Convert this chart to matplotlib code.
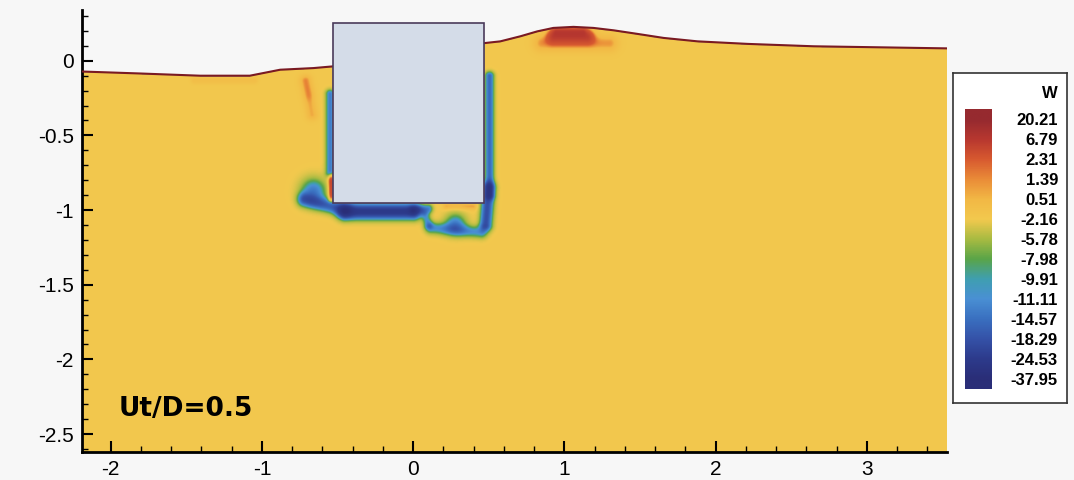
import numpy as np
import matplotlib.pyplot as plt
from matplotlib.colors import LinearSegmentedColormap
from matplotlib.patches import Rectangle
from matplotlib.ticker import MultipleLocator

plt.rcParams['font.family'] = ['Liberation Sans', 'DejaVu Sans']
plt.rcParams['axes.unicode_minus'] = False

# contour levels of W (legend) and their colours, low -> high
levels = [-37.95, -24.53, -18.29, -14.57, -11.11, -9.91, -7.98,
          -5.78, -2.16, 0.51, 1.39, 2.31, 6.79, 20.21]
level_colors = ['#2a2e78', '#2d3b8c', '#3552a8', '#3a70c0', '#4a90d4',
                '#3f9fb0', '#5aa548', '#a8bb42', '#f3c94e', '#f2b845',
                '#ea8c38', '#d85a30', '#b8382f', '#962a2f']

# free surface
surf_x = [-2.19, -1.81, -1.41, -1.08, -0.88, -0.66, -0.536, 0.477, 0.576,
          0.709, 0.821, 0.927, 1.06, 1.192, 1.325, 1.483, 1.656, 1.881,
          2.212, 2.649, 3.093, 3.53]
surf_y = [-0.072, -0.085, -0.10, -0.10, -0.06, -0.049, -0.038, 0.119, 0.130,
          0.164, 0.197, 0.220, 0.227, 0.220, 0.204, 0.180, 0.153, 0.130,
          0.113, 0.097, 0.090, 0.083]

# body
body_x = [-0.53, 0.47]
body_y = [-0.953, 0.255]

w_background = -2.0
# flow structures: x0, y0, x1, y1, width, W
features = [
    (-0.55, -0.22, -0.55, -0.75, 0.03, -11.0),      # left side layer
    (-0.66, -0.87, -0.66, -0.87, 0.085, -11.0),     # hook vortex
    (-0.72, -0.93, -0.45, -1.00, 0.045, -14.0),
    (-0.45, -1.01, 0.00, -1.01, 0.05, -24.0),       # band under body
    (0.00, -1.00, 0.10, -0.99, 0.03, -10.0),
    (0.505, -0.10, 0.505, -0.90, 0.03, -13.0),      # right side layer
    (0.50, -0.85, 0.48, -1.10, 0.04, -17.0),
    (0.45, -1.15, 0.12, -1.12, 0.04, -9.0),
    (0.28, -1.09, 0.28, -1.09, 0.07, -10.0),
    (0.10, -1.10, 0.08, -1.03, 0.03, -8.0),
    (0.22, -0.975, 0.40, -0.975, 0.025, 3.0),
    (-0.545, -0.77, -0.545, -0.93, 0.02, 8.0),      # corner
    (-0.71, -0.13, -0.67, -0.36, 0.04, 2.8),        # streak left of body
    (-0.72, -0.14, -0.69, -0.22, 0.045, 0.8),
    (0.93, 0.17, 1.15, 0.17, 0.05, 6.0),            # crest
    (0.95, 0.20, 1.12, 0.20, 0.03, 4.0),
    (0.85, 0.12, 1.30, 0.12, 0.06, 3.2),
    (-1.45, -0.13, -1.05, -0.13, 0.025, 1.5),
]

xlim = (-2.19, 3.53)
ylim = (-2.62, 0.34)

x = np.linspace(xlim[0], xlim[1], 1200)
y = np.linspace(ylim[0], ylim[1], 620)
X, Y = np.meshgrid(x, y)
W = np.full_like(X, w_background)
for x0, y0, x1, y1, wd, amp in features:
    dx, dy = x1 - x0, y1 - y0
    L2 = dx * dx + dy * dy
    if L2 > 0:
        t = np.clip(((X - x0) * dx + (Y - y0) * dy) / L2, 0, 1)
    else:
        t = 0
    d2 = (X - x0 - t * dx) ** 2 + (Y - y0 - t * dy) ** 2
    W += amp * np.exp(-d2 / wd ** 2)

pos = np.interp(W, levels, np.arange(len(levels)))
eta = np.interp(x, surf_x, surf_y)
mask = Y > eta[None, :]
mask |= (X > body_x[0]) & (X < body_x[1]) & (Y > body_y[0]) & (Y < body_y[1])
pos = np.ma.masked_where(mask, pos)

n = len(levels)
stops = [(0.0, level_colors[0])] + [((i + 0.5) / n, c) for i, c in enumerate(level_colors)] + [(1.0, level_colors[-1])]
cmap = LinearSegmentedColormap.from_list('tec', stops)
cmap.set_bad(alpha=0)

fig = plt.figure(figsize=(10.74, 4.80), dpi=100)
fig.patch.set_facecolor('#f7f7f7')
ax = fig.add_axes([82 / 1074, 28 / 480, 865 / 1074, 442 / 480])
ax.set_facecolor('none')
ax.imshow(pos, extent=[xlim[0], xlim[1], ylim[0], ylim[1]], origin='lower',
          cmap=cmap, vmin=-0.5, vmax=n - 0.5, interpolation='bilinear', aspect='auto')
ax.plot(surf_x, surf_y, color='#7a1a22', lw=1.5, zorder=3)
ax.add_patch(Rectangle((body_x[0], body_y[0]), body_x[1] - body_x[0], body_y[1] - body_y[0],
                       facecolor='#d4dce8', edgecolor='#4a3a5a', lw=1.2, zorder=4))
ax.set_xlim(xlim)
ax.set_ylim(ylim)

for s in ['top', 'right']:
    ax.spines[s].set_visible(False)
for s in ['left', 'bottom']:
    ax.spines[s].set_linewidth(2)
ax.xaxis.set_major_locator(MultipleLocator(1))
ax.xaxis.set_minor_locator(MultipleLocator(0.2))
ax.yaxis.set_major_locator(MultipleLocator(0.5))
ax.yaxis.set_minor_locator(MultipleLocator(0.1))
ax.tick_params(which='major', direction='in', length=8, width=1.5, labelsize=15, pad=6)
ax.tick_params(which='minor', direction='in', length=4, width=1)
ax.set_yticks([0, -0.5, -1, -1.5, -2, -2.5])
ax.set_yticklabels(['0', '-0.5', '-1', '-1.5', '-2', '-2.5'])
ax.set_xticks([-2, -1, 0, 1, 2, 3])
ax.set_xticklabels(['-2', '-1', '0', '1', '2', '3'])

ax.text(-1.95, -2.33, 'Ut/D=0.5', fontsize=19, fontweight='bold',
        family='DejaVu Sans', va='center', ha='left', zorder=5)

# legend box
frame = fig.add_axes([953 / 1074, 77 / 480, 114 / 1074, 330 / 480])
frame.set_facecolor('white')
frame.set_xticks([])
frame.set_yticks([])
for s in frame.spines.values():
    s.set_linewidth(1.2)
    s.set_color('#333333')

cax = fig.add_axes([965 / 1074, 91 / 480, 27 / 1074, 280 / 480])
grad = np.linspace(-0.5, n - 0.5, 400).reshape(-1, 1)
cax.imshow(grad, extent=[0, 1, -0.5, n - 0.5], origin='lower', cmap=cmap,
           vmin=-0.5, vmax=n - 0.5, aspect='auto')
cax.set_xticks([])
cax.yaxis.tick_right()
cax.set_yticks(np.arange(n))
cax.set_yticklabels([f'{v:.2f}' for v in levels], fontsize=12, fontweight='bold')
cax.tick_params(axis='y', length=0, pad=47.5)
for lab in cax.get_yticklabels():
    lab.set_ha('right')
for s in cax.spines.values():
    s.set_visible(False)
fig.text(1050 / 1074, 1 - 93 / 480, 'W', fontsize=12, fontweight='bold',
         ha='center', va='center')

fig.savefig('out.png', dpi=100, facecolor=fig.get_facecolor())
